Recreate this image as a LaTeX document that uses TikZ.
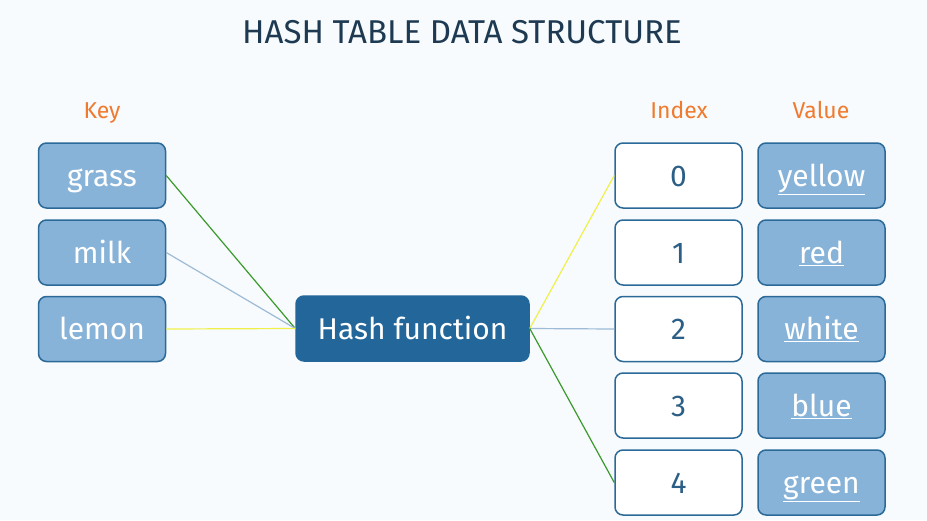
\documentclass[tikz,border=0pt]{standalone}
\usepackage{fontspec}
\setmainfont{Fira Sans}
\definecolor{bg}{HTML}{F7FBFD}
\definecolor{navy}{HTML}{1E3A52}
\definecolor{orng}{HTML}{F07A2E}
\definecolor{bord}{HTML}{2B6A98}
\definecolor{lfill}{HTML}{88B3D9}
\definecolor{dfill}{HTML}{23679A}
\definecolor{idxtxt}{HTML}{2C5F86}
\definecolor{lnGreen}{HTML}{3A9A2A}
\definecolor{lnBlue}{HTML}{9DBAD6}
\definecolor{lnYellow}{HTML}{F0F04A}
\begin{document}
\begin{tikzpicture}[x=1pt,y=-1pt,
  box/.style={draw=bord,line width=1.5pt,rounded corners=8pt,minimum width=127pt,minimum height=65pt,inner sep=0pt,text height=21pt,text depth=0pt,font=\fontsize{30}{34}\selectfont},
  keybox/.style={box,fill=lfill,text=white},
  idxbox/.style={box,fill=white,text=idxtxt},
  valbox/.style={box,fill=lfill,text=white},
  hashbox/.style={box,fill=dfill,draw=dfill,text=white,minimum width=233pt},
  head/.style={text=orng,inner sep=0pt,text height=16pt,text depth=0pt,font=\fontsize{23}{26}\selectfont},
  conn/.style={line width=1.2pt}]
\fill[bg] (0,0) rectangle (927,520);
\useasboundingbox (0,0) rectangle (927,520);
\node[text=navy,font=\fontsize{33}{38}\selectfont] (title) at (462,32) {HASH TABLE DATA STRUCTURE};
\node[head] (hk) at (102,110) {Key};
\node[head] (hi) at (679,110) {Index};
\node[head] (hv) at (821,110) {Value};
\node[keybox] (grass) at (102,175.5) {grass};
\node[keybox] (milk) at (102,252.5) {milk};
\node[keybox] (lemon) at (102,329) {lemon};
\node[hashbox] (hash) at (412.5,328.5) {Hash function};
\foreach \i/\y in {0/175.5,1/252.5,2/329,3/405.5,4/482.5}{
  \node[idxbox] (i\i) at (678.5,\y) {\i};
}
\newcommand{\ul}[1]{\underline{#1}}
\node[valbox] (v0) at (821.5,175.5) {\ul{yellow}};
\node[valbox] (v1) at (821.5,252.5) {\ul{red}};
\node[valbox] (v2) at (821.5,329) {\ul{white}};
\node[valbox] (v3) at (821.5,405.5) {\ul{blue}};
\node[valbox] (v4) at (821.5,482.5) {\ul{green}};
\draw[conn,lnGreen] (grass.east) -- (hash.west);
\draw[conn,lnBlue] (milk.east) -- (hash.west);
\draw[conn,lnYellow] (lemon.east) -- (hash.west);
\draw[conn,lnYellow] (hash.east) -- (i0.west);
\draw[conn,lnBlue] (hash.east) -- (i2.west);
\draw[conn,lnGreen] (hash.east) -- (i4.west);
\end{tikzpicture}
\end{document}
